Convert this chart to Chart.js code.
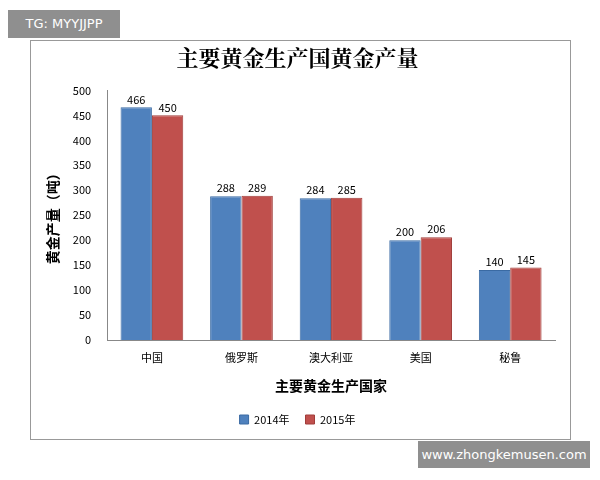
<!DOCTYPE html>
<html>
<head>
<meta charset="utf-8">
<script src="https://cdn.jsdelivr.net/npm/chart.js@4/dist/chart.umd.min.js"></script>
<style>
body { margin: 0; background: #fff; }
#wrap { position: relative; width: 600px; height: 480px; }
#box { position: absolute; left: 30px; top: 40px; width: 539px; height: 398px; border: 1px solid #999; }
#tg { position: absolute; left: 8px; top: 10px; width: 112px; height: 28px; background: #8f8f8f; color: #fff;
      font: 13px "DejaVu Sans", sans-serif; line-height: 28px; text-align: center; }
#site { position: absolute; left: 418px; top: 441px; width: 172px; height: 27px; background: #8f8f8f; color: #fff;
      font: 13px "DejaVu Sans", sans-serif; line-height: 27px; text-align: center; }
canvas { position: absolute; left: 0; top: 0; }
</style>
</head>
<body>
<div id="wrap">
<div id="box"></div>
<canvas id="myChart" width="600" height="480"></canvas>
<div id="tg">TG: MYYJJPP</div>
<div id="site">www.zhongkemusen.com</div>
</div>
<script>
const countries = ['中国', '俄罗斯', '澳大利亚', '美国', '秘鲁'];
const gold2014 = [466, 288, 284, 200, 140];
const gold2015 = [450, 289, 285, 206, 145];
const yTicks = [0, 50, 100, 150, 200, 250, 300, 350, 400, 450, 500];

Chart.defaults.font.family = '"Noto Sans CJK SC", sans-serif';
Chart.defaults.font.size = 11;
Chart.defaults.color = '#000';

const barLabels = {
    id: 'barLabels',
    afterDatasetsDraw(chart) {
        const ctx = chart.ctx;
        ctx.save();
        ctx.font = '11px "Noto Sans CJK SC", sans-serif';
        ctx.fillStyle = '#000';
        ctx.textAlign = 'center';
        chart.data.datasets.forEach((ds, i) => {
            chart.getDatasetMeta(i).data.forEach((bar, j) => {
                ctx.fillText(ds.data[j], bar.x, bar.y - 8);
            });
        });
        ctx.restore();
    }
};

const ctx = document.getElementById('myChart').getContext('2d');
new Chart(ctx, {
    type: 'bar',
    data: {
        labels: countries,
        datasets: [{
            label: '2014年',
            data: gold2014,
            backgroundColor: '#4F81BD',
            borderColor: '#3a6aa3',
            borderWidth: 1
        },
        {
            label: '2015年',
            data: gold2015,
            backgroundColor: '#C0504D',
            borderColor: '#a03d3a',
            borderWidth: 1
        }]
    },
    options: {
        responsive: false,
        animation: false,
        layout: { padding: { left: 40, right: 45, top: 44, bottom: 45 } },
        datasets: { bar: { categoryPercentage: 0.7, barPercentage: 1 } },
        scales: {
            x: {
                grid: { display: false, drawTicks: true },
                border: { color: '#888' },
                title: { display: true, text: '主要黄金生产国家', font: { size: 14, weight: 'bold' }, padding: { top: 10 } }
            },
            y: {
                min: 0, max: 500,
                afterBuildTicks: axis => { axis.ticks = yTicks.map(v => ({ value: v })); },
                grid: { display: false },
                border: { color: '#888' },
                ticks: { padding: 8 },
                title: { display: true, text: '黄金产量（吨）', font: { size: 14, weight: 'bold' }, padding: { bottom: 4 } }
            }
        },
        plugins: {
            title: {
                display: true,
                text: '主要黄金生产国黄金产量',
                font: { family: '"Noto Serif CJK SC", "Noto Sans CJK SC", serif', size: 22, weight: 'bold' },
                padding: { bottom: 20 }
            },
            legend: {
                position: 'bottom',
                labels: { boxWidth: 9, boxHeight: 9, padding: 16 }
            },
            tooltip: { enabled: false }
        }
    },
    plugins: [barLabels]
});
</script>
</body>
</html>
